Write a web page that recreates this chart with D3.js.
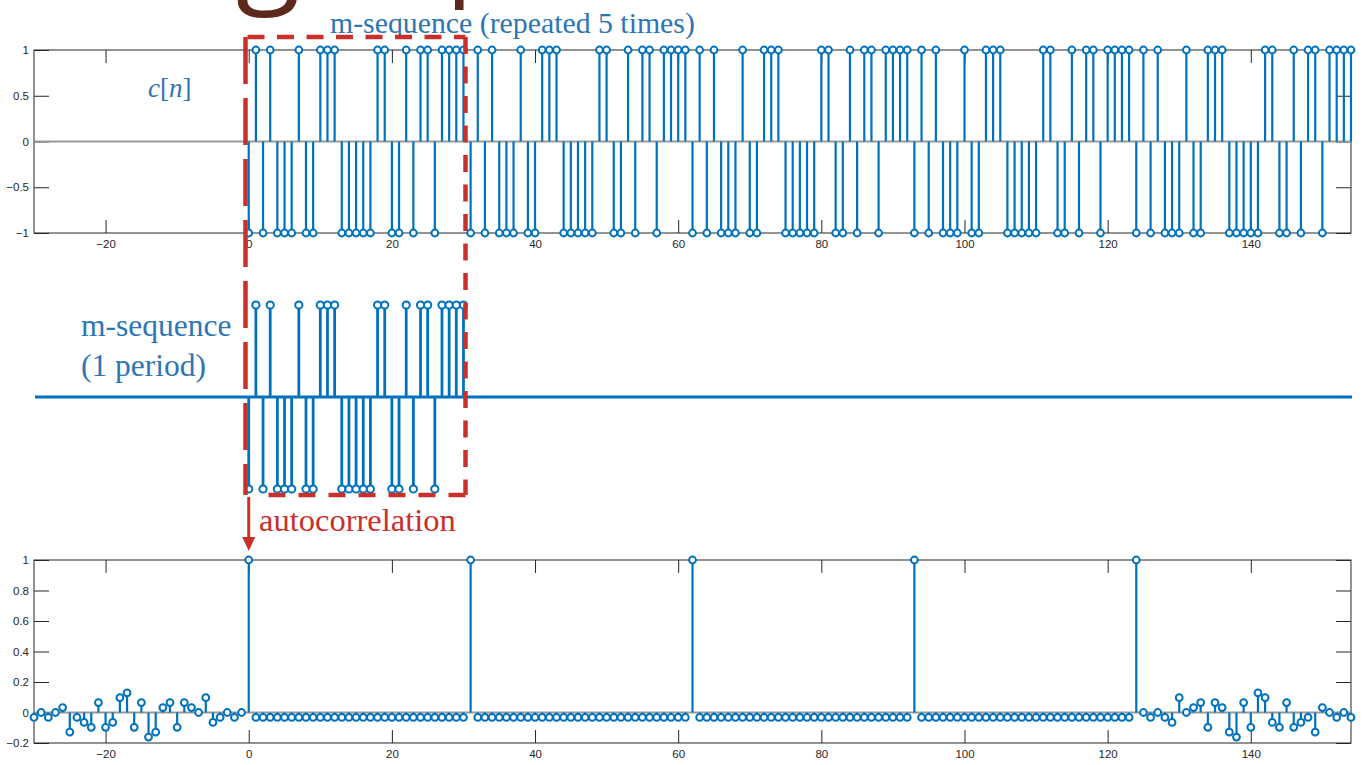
<!DOCTYPE html>
<html>
<head>
<meta charset="utf-8">
<script src="https://cdn.jsdelivr.net/npm/d3@7"></script>
<style>
  body { margin: 0; background: #fff; }
  .tick text { font-family: "Liberation Sans", Arial, sans-serif; font-size: 11.5px; fill: #262626; }
  .tick line { stroke: #262626; }
  .serif { font-family: "Liberation Serif", "DejaVu Serif", serif; }
</style>
</head>
<body>
<svg id="chart" width="1365" height="765"></svg>
<script>
// one period of the m-sequence, n = 0..30
const cPeriod = [-1, 1, -1, 1, -1, -1, -1, 1, -1, -1, 1, 1, 1, -1, -1, -1,
                 -1, -1, 1, 1, -1, -1, 1, -1, 1, 1, -1, 1, 1, 1, 1];
// c[n] as plotted on top: the period shown 5 times, n = 0..154
const cRepeated = [...cPeriod, ...cPeriod, ...cPeriod, ...cPeriod, ...cPeriod];

// autocorrelation, lags -30..-1
const corrLeft = [-0.032, 0, -0.032, 0, 0.032, -0.129, -0.032, -0.065, -0.097, 0.065,
                  -0.097, -0.065, 0.097, 0.129, -0.097, 0.065, -0.161, -0.129, 0.032, 0.065,
                  -0.097, 0.065, 0.032, 0, 0.097, -0.065, -0.032, 0, -0.032, 0];
// lags 0..124
const corrMid = [
  1, -0.032, -0.032, -0.032, -0.032, -0.032, -0.032, -0.032, -0.032, -0.032, -0.032, -0.032, -0.032, -0.032, -0.032, -0.032, -0.032, -0.032, -0.032, -0.032, -0.032, -0.032, -0.032, -0.032, -0.032, -0.032, -0.032, -0.032, -0.032, -0.032, -0.032,
  1, -0.032, -0.032, -0.032, -0.032, -0.032, -0.032, -0.032, -0.032, -0.032, -0.032, -0.032, -0.032, -0.032, -0.032, -0.032, -0.032, -0.032, -0.032, -0.032, -0.032, -0.032, -0.032, -0.032, -0.032, -0.032, -0.032, -0.032, -0.032, -0.032, -0.032,
  1, -0.032, -0.032, -0.032, -0.032, -0.032, -0.032, -0.032, -0.032, -0.032, -0.032, -0.032, -0.032, -0.032, -0.032, -0.032, -0.032, -0.032, -0.032, -0.032, -0.032, -0.032, -0.032, -0.032, -0.032, -0.032, -0.032, -0.032, -0.032, -0.032, -0.032,
  1, -0.032, -0.032, -0.032, -0.032, -0.032, -0.032, -0.032, -0.032, -0.032, -0.032, -0.032, -0.032, -0.032, -0.032, -0.032, -0.032, -0.032, -0.032, -0.032, -0.032, -0.032, -0.032, -0.032, -0.032, -0.032, -0.032, -0.032, -0.032, -0.032, -0.032,
  1];
// lags 125..154
const corrRight = [0, -0.032, 0, -0.032, -0.065, 0.097, 0, 0.032, 0.065, -0.097,
                   0.065, 0.032, -0.129, -0.161, 0.065, -0.097, 0.129, 0.097, -0.065, -0.097,
                   0.065, -0.097, -0.065, -0.032, -0.129, 0.032, 0, -0.032, 0, -0.032];
const corrValues = [...corrLeft, ...corrMid, ...corrRight];
const corrLags = d3.range(-30, 155);

const xTicks = [-20, 0, 20, 40, 60, 80, 100, 120, 140];
const cTicks = [-1, -0.5, 0, 0.5, 1];
const corrTicks = [-0.2, 0, 0.2, 0.4, 0.6, 0.8, 1];

const blue = '#0072bd';
const textBlue = '#2e75b6';
const red = '#c9302c';

const svg = d3.select('#chart');

const x = d3.scaleLinear().domain([-30, 154]).range([34, 1351]);
const yTop = d3.scaleLinear().domain([-1, 1]).range([233, 50]);
const yMid = d3.scaleLinear().domain([-1, 1]).range([489, 305]);
const yBot = d3.scaleLinear().domain([-0.2, 1]).range([743, 560]);

// cropped slide heading above the figure (only the descenders show)
svg.append('text').attr('x', 236).attr('y', -10)
  .attr('font-family', '"Open Sans", sans-serif').attr('font-size', 118)
  .attr('fill', '#5b2a1c').text('g');
svg.append('text').attr('x', 446).attr('y', -15)
  .attr('font-family', '"Open Sans", sans-serif').attr('font-size', 105)
  .attr('fill', '#5b2a1c').text('p');

function drawAxes(y, ticks, fmt) {
  const g = svg.append('g');
  const [y0, y1] = y.range();
  g.append('g').attr('transform', `translate(0,${y0})`)
    .call(d3.axisBottom(x).tickValues(xTicks).tickSize(-13).tickPadding(7))
    .call(a => a.select('.domain').remove());
  g.append('g').attr('transform', `translate(0,${y1})`)
    .call(d3.axisTop(x).tickValues(xTicks).tickSize(-13).tickFormat(''))
    .call(a => a.select('.domain').remove());
  g.append('g').attr('transform', `translate(${x.range()[0]},0)`)
    .call(d3.axisLeft(y).tickValues(ticks).tickSize(-15).tickPadding(5).tickFormat(fmt))
    .call(a => a.select('.domain').remove());
  g.append('g').attr('transform', `translate(${x.range()[1]},0)`)
    .call(d3.axisRight(y).tickValues(ticks).tickSize(-15).tickFormat(''))
    .call(a => a.select('.domain').remove());
  g.append('rect')
    .attr('x', x.range()[0]).attr('y', y1)
    .attr('width', x.range()[1] - x.range()[0]).attr('height', y0 - y1)
    .attr('fill', 'none').attr('stroke', '#262626').attr('stroke-width', 1);
  // stem baseline
  g.append('line')
    .attr('x1', x.range()[0]).attr('x2', x.range()[1])
    .attr('y1', y(0)).attr('y2', y(0))
    .attr('stroke', '#999').attr('stroke-width', 2);
}

function drawStems(lags, values, y, sw, r) {
  const g = svg.append('g');
  g.selectAll('line').data(values).enter().append('line')
    .attr('x1', (d, i) => x(lags[i])).attr('x2', (d, i) => x(lags[i]))
    .attr('y1', y(0)).attr('y2', d => y(d))
    .attr('stroke', blue).attr('stroke-width', sw);
  g.selectAll('circle').data(values).enter().append('circle')
    .attr('cx', (d, i) => x(lags[i])).attr('cy', d => y(d))
    .attr('r', r)
    .attr('fill', '#fff').attr('stroke', blue).attr('stroke-width', 2);
}

const fmt = d => d3.format('~g')(d);

// top: c[n]
drawAxes(yTop, cTicks, fmt);
drawStems(d3.range(0, 155), cRepeated, yTop, 2.2, 3.4);

// middle: one period, no axes
svg.append('line')
  .attr('x1', 35).attr('x2', 1352)
  .attr('y1', yMid(0)).attr('y2', yMid(0))
  .attr('stroke', blue).attr('stroke-width', 3);
drawStems(d3.range(0, 31), cPeriod, yMid, 2.8, 3.6);

// bottom: autocorrelation
drawAxes(yBot, corrTicks, fmt);
drawStems(corrLags, corrValues, yBot, 2.2, 3.4);

// annotations
svg.append('text').attr('class', 'serif')
  .attr('x', 330).attr('y', 33).attr('font-size', 29.8).attr('fill', textBlue)
  .text('m-sequence (repeated 5 times)');

const cn = svg.append('text').attr('class', 'serif')
  .attr('x', 148).attr('y', 97).attr('font-size', 27).attr('fill', textBlue);
cn.append('tspan').attr('font-style', 'italic').text('c');
cn.append('tspan').text('[');
cn.append('tspan').attr('font-style', 'italic').text('n');
cn.append('tspan').text(']');

svg.append('text').attr('class', 'serif')
  .attr('x', 81).attr('y', 336).attr('font-size', 31.5).attr('fill', textBlue)
  .text('m-sequence');
svg.append('text').attr('class', 'serif')
  .attr('x', 81).attr('y', 376).attr('font-size', 31.5).attr('fill', textBlue)
  .text('(1 period)');

// red dashed box around one period
const box = { l: 245.5, r: 465.5, t: 37, b: 495 };
const boxG = svg.append('g').attr('stroke', red).attr('stroke-width', 4.5).attr('fill', 'none');
boxG.append('line').attr('x1', box.l + 2).attr('x2', box.r).attr('y1', box.t).attr('y2', box.t)
  .attr('stroke-dasharray', '17,12.5');
boxG.append('line').attr('x1', box.r).attr('x2', box.r).attr('y1', box.t).attr('y2', box.b)
  .attr('stroke-dasharray', '17,12.5');
boxG.append('line').attr('x1', box.r).attr('x2', box.l + 12).attr('y1', box.b).attr('y2', box.b)
  .attr('stroke-dasharray', '17,13');
boxG.append('line').attr('x1', box.l).attr('x2', box.l).attr('y1', box.t).attr('y2', box.b)
  .attr('stroke-dasharray', '47,14');

// arrow down to the autocorrelation peak
svg.append('line')
  .attr('x1', x(0)).attr('x2', x(0)).attr('y1', 497).attr('y2', 539)
  .attr('stroke', red).attr('stroke-width', 3);
svg.append('path')
  .attr('d', `M${x(0) - 6.5},537 L${x(0) + 6.5},537 L${x(0)},551 Z`)
  .attr('fill', red);

svg.append('text').attr('class', 'serif')
  .attr('x', 259).attr('y', 531).attr('font-size', 32.5).attr('fill', red)
  .text('autocorrelation');
</script>
</body>
</html>
